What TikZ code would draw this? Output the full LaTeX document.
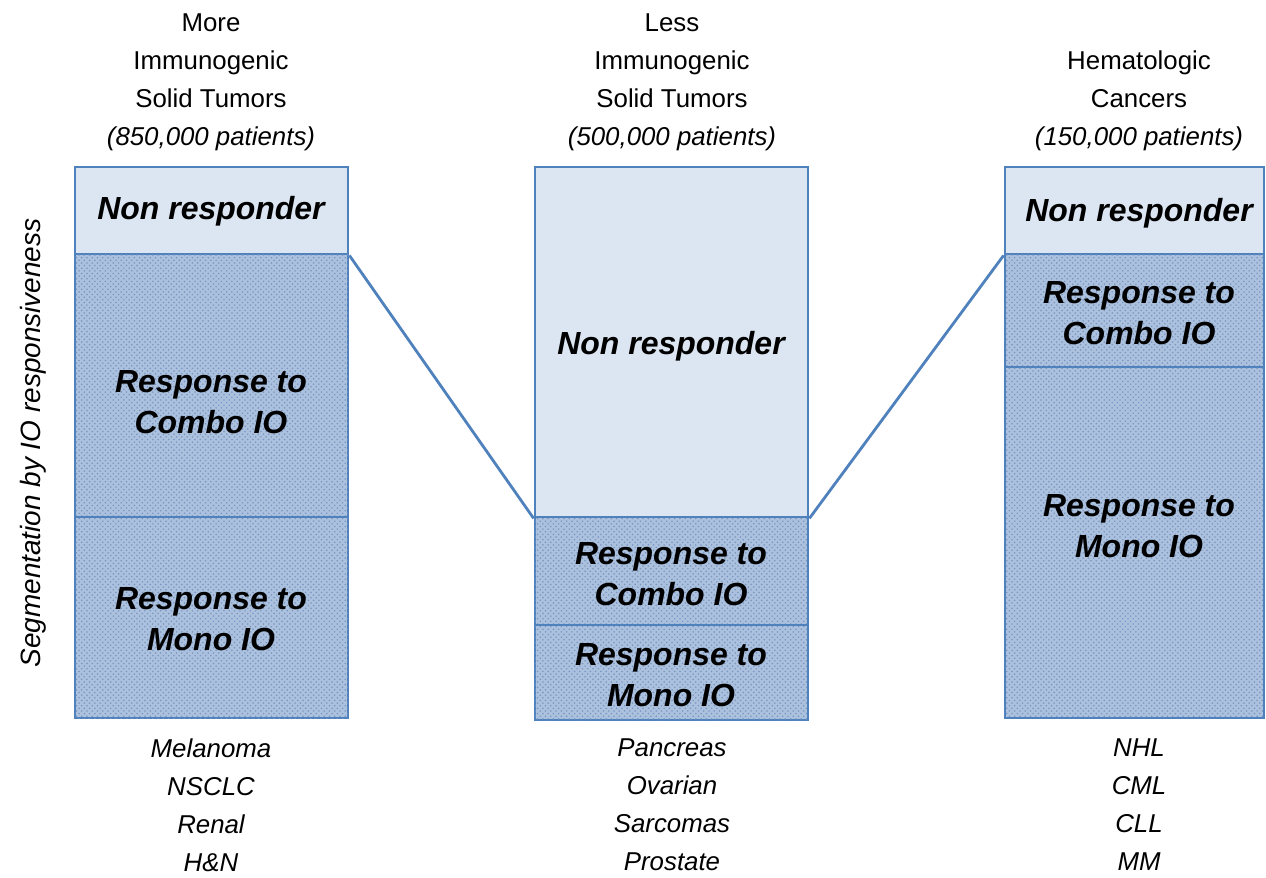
\documentclass[tikz,border=0pt]{standalone}
\usepackage{fontspec}
\setmainfont{Liberation Sans}
\usetikzlibrary{patterns}

\definecolor{ioblue}{RGB}{79,129,189}
\definecolor{iolight}{RGB}{220,230,242}
\definecolor{iohatch}{RGB}{172,193,221}
\definecolor{iodots}{RGB}{120,150,195}

\tikzstyle{segment} = [draw=ioblue,line width=1.6pt,inner sep=0pt]
\tikzstyle{nonresp} = [segment,fill=iolight]
\tikzstyle{resp} = [segment,fill=iohatch,postaction={pattern=crosshatch dots,pattern color=iodots}]
\tikzstyle{seglabel} = [align=center,inner sep=0pt,font=\fontsize{18.2}{23.6}\selectfont\bfseries\itshape]
\tikzstyle{heading} = [align=center,inner sep=0pt,font=\fontsize{14.7}{21.6}\selectfont]
\tikzstyle{examples} = [heading,font=\fontsize{14.7}{21.6}\selectfont\itshape]

\begin{document}
\begin{tikzpicture}[x=0.02cm,y=-0.02cm]
	\useasboundingbox (0,0) rectangle (1266,877);

	% more immunogenic solid tumors
	\node[heading] (hA) at (211,82) {More\\Immunogenic\\Solid Tumors\\\textit{(850,000 patients)}};
	\node[nonresp,minimum width=5.46cm,minimum height=1.74cm] (nrA) at (211.5,210.5) {};
	\node[resp,minimum width=5.46cm,minimum height=5.26cm] (coA) at (211.5,385.5) {};
	\node[resp,minimum width=5.46cm,minimum height=4.02cm] (moA) at (211.5,617.5) {};
	\node[seglabel] (tnrA) at (211,211) {Non responder};
	\node[seglabel] (tcoA) at (211,402) {Response to\\Combo IO};
	\node[seglabel] (tmoA) at (211,619) {Response to\\Mono IO};
	\node[examples] (exA) at (211,805) {Melanoma\\NSCLC\\Renal\\H\&N};

	% less immunogenic solid tumors
	\node[heading] (hB) at (672,82) {Less\\Immunogenic\\Solid Tumors\\\textit{(500,000 patients)}};
	\node[nonresp,minimum width=5.46cm,minimum height=7.0cm] (nrB) at (671.5,342) {};
	\node[resp,minimum width=5.46cm,minimum height=2.16cm] (coB) at (671.5,571) {};
	\node[resp,minimum width=5.46cm,minimum height=1.9cm] (moB) at (671.5,672.5) {};
	\node[seglabel] (tnrB) at (671,346) {Non responder};
	\node[seglabel] (tcoB) at (671,574) {Response to\\Combo IO};
	\node[seglabel] (tmoB) at (671,675) {Response to\\Mono IO};
	\node[examples] (exB) at (672,805) {Pancreas\\Ovarian\\Sarcomas\\Prostate};

	% hematologic cancers
	\node[heading] (hC) at (1139,101) {Hematologic\\Cancers\\\textit{(150,000 patients)}};
	\node[nonresp,minimum width=5.18cm,minimum height=1.74cm] (nrC) at (1134.5,210.5) {};
	\node[resp,minimum width=5.18cm,minimum height=2.26cm] (coC) at (1134.5,310.5) {};
	\node[resp,minimum width=5.18cm,minimum height=7.02cm] (moC) at (1134.5,542.5) {};
	\node[seglabel] (tnrC) at (1139,213) {Non responder};
	\node[seglabel] (tcoC) at (1139,313) {Response to\\Combo IO};
	\node[seglabel] (tmoC) at (1139,526) {Response to\\Mono IO};
	\node[examples] (exC) at (1139,805) {NHL\\CML\\CLL\\MM};

	\node[heading,rotate=90,font=\fontsize{15.9}{18}\selectfont\itshape] (axis) at (33,443) {Segmentation by IO responsiveness};

	\draw[ioblue,line width=1.6pt] (nrA.south east) -- (nrB.south west);
	\draw[ioblue,line width=1.6pt] (nrB.south east) -- (nrC.south west);
\end{tikzpicture}
\end{document}
